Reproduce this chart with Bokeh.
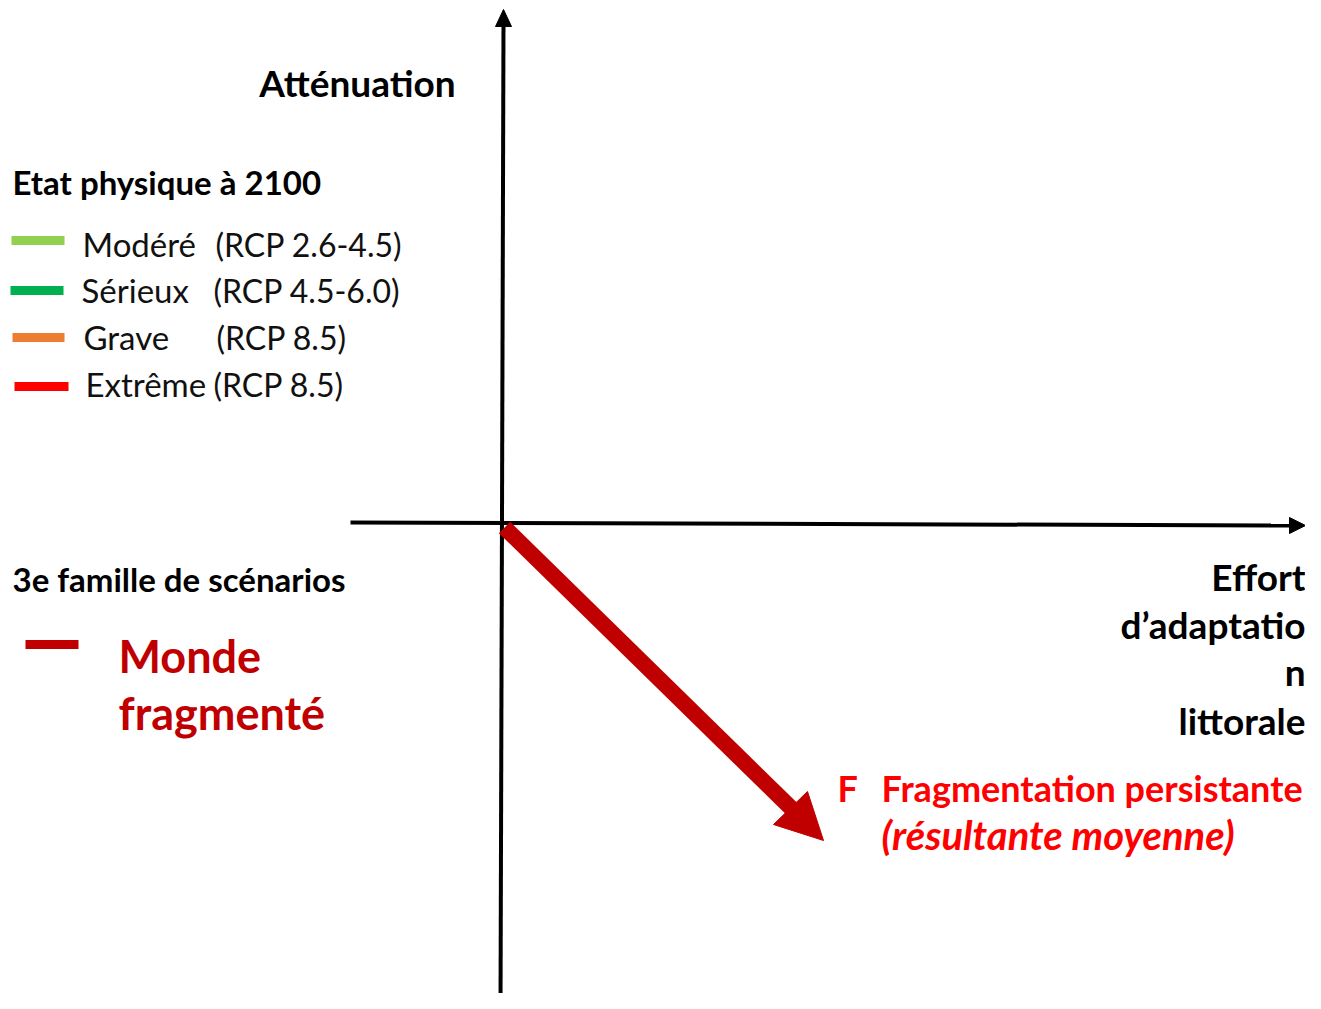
from bokeh.plotting import figure
from bokeh.models import Range1d
from bokeh.core.properties import value
from bokeh.embed import file_html
from bokeh.resources import INLINE

# ---- diagram data (positions in page pixels) ----
axis_v_x = [503, 500]
axis_v_y = [22, 1008]
axis_v_head_x = [503, 495, 511]
axis_v_head_y = [9, 26, 26]
axis_h_x = [350, 1290]
axis_h_y = [522, 525]
axis_h_head_x = [1305, 1289, 1289]
axis_h_head_y = [525, 517, 533]

scen_shaft_x = [504, 791]
scen_shaft_y = [527, 808]
scen_head_x = [807, 823, 773]
scen_head_y = [791, 840, 824]

legend_names = ["Modéré", "Sérieux", "Grave", "Extrême"]
legend_rcp = ["(RCP 2.6-4.5)", "(RCP 4.5-6.0)", "(RCP 8.5)", "(RCP 8.5)"]
legend_colors = ["#92D050", "#00B050", "#ED7D31", "#FF0000"]
legend_line_x0 = [11, 10, 12, 14]
legend_line_x1 = [64, 63, 64, 68]
legend_line_y = [240, 290, 337, 386]
legend_name_x = [82, 81, 83, 85]
legend_rcp_x = [215, 213, 216, 213]
legend_baseline = [257, 303, 350, 397]

effort_lines = ["Effort", "d\u2019adaptatio", "n", "littorale"]
effort_baseline = [591, 639, 686, 735]

FONT = value("Lato")
K = 0.4  # anchor correction (fraction of font size) for alphabetic baseline


def bl(ys, size):
    return [y - K * size for y in ys]


W, H = 1305, 993
p = figure(width=W, height=H, x_range=Range1d(0, W), y_range=Range1d(H, 0),
           output_backend="svg", toolbar_location=None, min_border=0,
           x_axis_location=None, y_axis_location=None)
p.grid.visible = False
p.outline_line_color = None
p.background_fill_color = "white"

# axes
p.line(axis_v_x, axis_v_y, line_color="black", line_width=4)
p.patch(axis_v_head_x, axis_v_head_y, fill_color="black", line_color="black")
p.line(axis_h_x, axis_h_y, line_color="black", line_width=4)
p.patch(axis_h_head_x, axis_h_head_y, fill_color="black", line_color="black")

# scenario arrow
p.line(scen_shaft_x, scen_shaft_y, line_color="#C00000", line_width=16, line_cap="butt")
p.patch(scen_head_x, scen_head_y, fill_color="#C00000", line_color="#C00000")

# titles
p.text(x=[357], y=bl([97], 37), text=["Atténuation"], text_font=FONT, text_font_style="bold",
       text_font_size="37px", text_align="center", text_baseline="alphabetic", text_color="black")
p.text(x=[12], y=bl([195], 33), text=["Etat physique à 2100"], text_font=FONT, text_font_style="bold",
       text_font_size="33px", text_align="left", text_baseline="alphabetic", text_color="black")

# legend
p.segment(x0=legend_line_x0, y0=legend_line_y, x1=legend_line_x1, y1=legend_line_y,
          line_color=legend_colors, line_width=9, line_cap="butt")
p.text(x=legend_name_x, y=bl(legend_baseline, 33), text=legend_names, text_font=FONT,
       text_font_size="33px", text_baseline="alphabetic", text_color="#111111")
p.text(x=legend_rcp_x, y=bl(legend_baseline, 32), text=legend_rcp, text_font=FONT,
       text_font_size="32px", text_baseline="alphabetic", text_color="#111111")

# scenario family
p.text(x=[12], y=bl([592], 33), text=["3e famille de scénarios"], text_font=FONT, text_font_style="bold",
       text_font_size="33px", text_baseline="alphabetic", text_color="black")
p.segment(x0=[25], y0=[644], x1=[78], y1=[644], line_color="#C00000", line_width=9, line_cap="butt")
p.text(x=[118, 118], y=bl([673, 730], 45), text=["Monde", "fragmenté"], text_font=FONT,
       text_font_style="bold", text_font_size="45px", text_baseline="alphabetic", text_color="#C00000")

# x-axis label
p.text(x=[1305] * 4, y=bl(effort_baseline, 37), text=effort_lines, text_font=FONT, text_font_style="bold",
       text_font_size="37px", text_align="right", text_baseline="alphabetic", text_color="black")

# scenario label
p.text(x=[837], y=bl([802], 36), text=["F"], text_font=FONT, text_font_style="bold",
       text_font_size="36px", text_baseline="alphabetic", text_color="#FF0000")
p.text(x=[881], y=bl([802], 36), text=["Fragmentation persistante"], text_font=FONT, text_font_style="bold",
       text_font_size="36px", text_baseline="alphabetic", text_color="#FF0000")
p.text(x=[881], y=bl([850], 40), text=["(résultante moyenne)"], text_font=FONT, text_font_style="bold italic",
       text_font_size="40px", text_baseline="alphabetic", text_color="#FF0000")

open("out.html", "w").write(file_html(p, INLINE))
